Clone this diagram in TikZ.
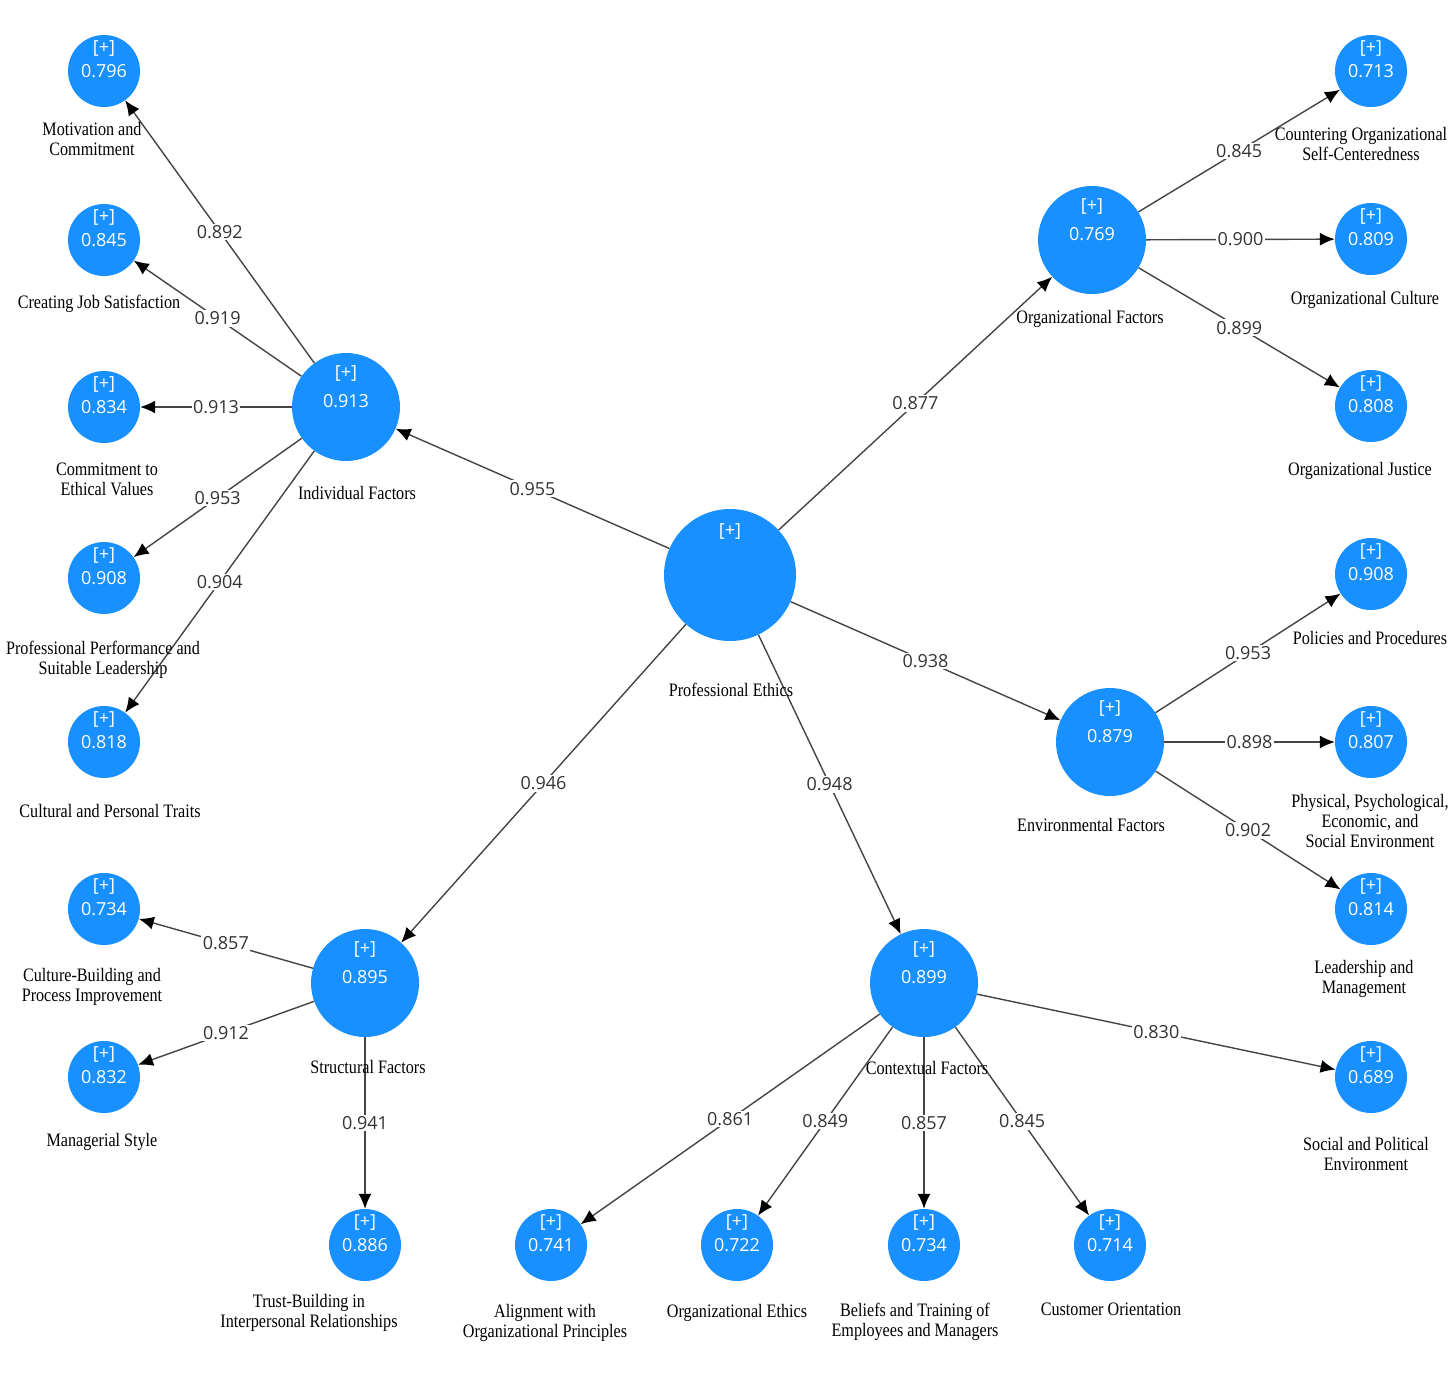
\documentclass[tikz,border=0pt]{standalone}
\usepackage{fontspec}
\usepackage{tikz}
\usepackage{xcolor}
\usetikzlibrary{arrows.meta}

\newfontfamily\capfont[FakeStretch=0.85]{Liberation Serif}
\newfontfamily\numfont{Open Sans}
\definecolor{plsblue}{RGB}{24,144,255}
\definecolor{edgegray}{RGB}{68,68,68}

\tikzset{
  numtxt/.style={font=\numfont\fontsize{18}{20}\selectfont},
  intxt/.style={numtxt, text=white, inner sep=0pt},
  ind/.style={circle, fill=plsblue, minimum size=72pt, inner sep=0pt, intxt,
    label={[intxt, yshift=23pt]center:[+]}},
  lat/.style={circle, fill=plsblue, minimum size=108pt, inner sep=0pt,
    label={[intxt, yshift=34pt]center:[+]}, label={[intxt, yshift=6pt]center:#1}},
  root/.style={circle, fill=plsblue, minimum size=132pt, inner sep=0pt,
    label={[intxt, yshift=44pt]center:[+]}},
  captxt/.style={align=center, inner sep=0pt, font=\capfont\fontsize{19}{20}\selectfont},
  wt/.style={numtxt, text=black!80, fill=white, inner sep=1.5pt, midway},
  loadline/.style={draw=edgegray, line width=1.4pt, -{Latex[length=15pt,width=13pt,black]}}
}

\begin{document}
\begin{tikzpicture}[x=1pt, y=-1pt]
  \useasboundingbox (0,0) rectangle (1456,1374);
  % constructs
  \node[root] (pe) at (730,575) {};
  \node[lat=0.913] (indf) at (346,407) {};
  \node[lat=0.769] (orgf) at (1092,240) {};
  \node[lat=0.879] (envf) at (1110,742) {};
  \node[lat=0.895] (strf) at (365,983) {};
  \node[lat=0.899] (ctxf) at (924,983) {};

  % indicators, left column
  \foreach \nm/\y/\v in {motiv/71/0.796, jobsat/240/0.845, ethval/407/0.834, perf/578/0.908,
                         trait/742/0.818, cultb/909/0.734, manag/1077/0.832}
    \node[ind] (\nm) at (104,\y) {\v};
  % indicators, right column
  \foreach \nm/\y/\v in {counter/71/0.713, orgcul/239/0.809, justi/406/0.808, polic/574/0.908,
                         physp/742/0.807, leadm/909/0.814, social/1077/0.689}
    \node[ind] (\nm) at (1371,\y) {\v};
  % indicators, bottom row
  \foreach \nm/\x/\v in {trust/365/0.886, align/551/0.741, orgeth/737/0.722, belief/924/0.734,
                         custo/1110/0.714}
    \node[ind] (\nm) at (\x,1245) {\v};

  % paths from professional ethics
  \draw[loadline] (pe) -- node[wt]{0.955} (indf);
  \draw[loadline] (pe) -- node[wt]{0.877} (orgf);
  \draw[loadline] (pe) -- node[wt]{0.938} (envf);
  \draw[loadline] (pe) -- node[wt]{0.946} (strf);
  \draw[loadline] (pe) -- node[wt]{0.948} (ctxf);

  % loadings
  \draw[loadline] (indf) -- node[wt]{0.892} (motiv);
  \draw[loadline] (indf) -- node[wt]{0.919} (jobsat);
  \draw[loadline] (indf) -- node[wt]{0.913} (ethval);
  \draw[loadline] (indf) -- node[wt]{0.953} (perf);
  \draw[loadline] (indf) -- node[wt]{0.904} (trait);
  \draw[loadline] (orgf) -- node[wt]{0.845} (counter);
  \draw[loadline] (orgf) -- node[wt]{0.900} (orgcul);
  \draw[loadline] (orgf) -- node[wt]{0.899} (justi);
  \draw[loadline] (envf) -- node[wt]{0.953} (polic);
  \draw[loadline] (envf) -- node[wt]{0.898} (physp);
  \draw[loadline] (envf) -- node[wt]{0.902} (leadm);
  \draw[loadline] (strf) -- node[wt]{0.857} (cultb);
  \draw[loadline] (strf) -- node[wt]{0.912} (manag);
  \draw[loadline] (strf) -- node[wt]{0.941} (trust);
  \draw[loadline] (ctxf) -- node[wt]{0.861} (align);
  \draw[loadline] (ctxf) -- node[wt]{0.849} (orgeth);
  \draw[loadline] (ctxf) -- node[wt]{0.857} (belief);
  \draw[loadline] (ctxf) -- node[wt]{0.845} (custo);
  \draw[loadline] (ctxf) -- node[wt]{0.830} (social);

  % captions
  \node[captxt] (tpe) at (731,690) {Professional Ethics};
  \node[captxt] (tindf) at (357,493) {Individual Factors};
  \node[captxt] (torgf) at (1090,319) {Organizational Factors};
  \node[captxt] (tenvf) at (1091,825) {Environmental Factors};
  \node[captxt] (tstrf) at (368,1067) {Structural Factors};
  \node[captxt] (tctxf) at (927,1068) {Contextual Factors};
  \node[captxt] (tmotiv) at (92,139) {Motivation and\\Commitment};
  \node[captxt] (tjobsat) at (99,304) {Creating Job Satisfaction};
  \node[captxt] (tethval) at (107,479) {Commitment to\\Ethical Values};
  \node[captxt] (tperf) at (103,660) {Professional Performance and\\Suitable Leadership};
  \node[captxt] (ttrait) at (110,811) {Cultural and Personal Traits};
  \node[captxt] (tcultb) at (92,987) {Culture-Building and\\Process Improvement};
  \node[captxt] (tmanag) at (102,1142) {Managerial Style};
  \node[captxt] (ttrust) at (309,1313) {Trust-Building in\\Interpersonal Relationships};
  \node[captxt] (talign) at (545,1323) {Alignment with\\Organizational Principles};
  \node[captxt] (torgeth) at (737,1313) {Organizational Ethics};
  \node[captxt] (tbelief) at (915,1322) {Beliefs and Training of\\Employees and Managers};
  \node[captxt] (tcusto) at (1111,1309) {Customer Orientation};
  \node[captxt] (tsocial) at (1366,1154) {Social and Political\\Environment};
  \node[captxt] (tleadm) at (1364,979) {Leadership and\\Management};
  \node[captxt] (tphysp) at (1370,821) {Physical, Psychological,\\Economic, and\\Social Environment};
  \node[captxt] (tpolic) at (1370,638) {Policies and Procedures};
  \node[captxt] (tjusti) at (1360,471) {Organizational Justice};
  \node[captxt] (torgcul) at (1365,300) {Organizational Culture};
  \node[captxt] (tcounter) at (1361,144) {Countering Organizational\\Self-Centeredness};
\end{tikzpicture}
\end{document}
